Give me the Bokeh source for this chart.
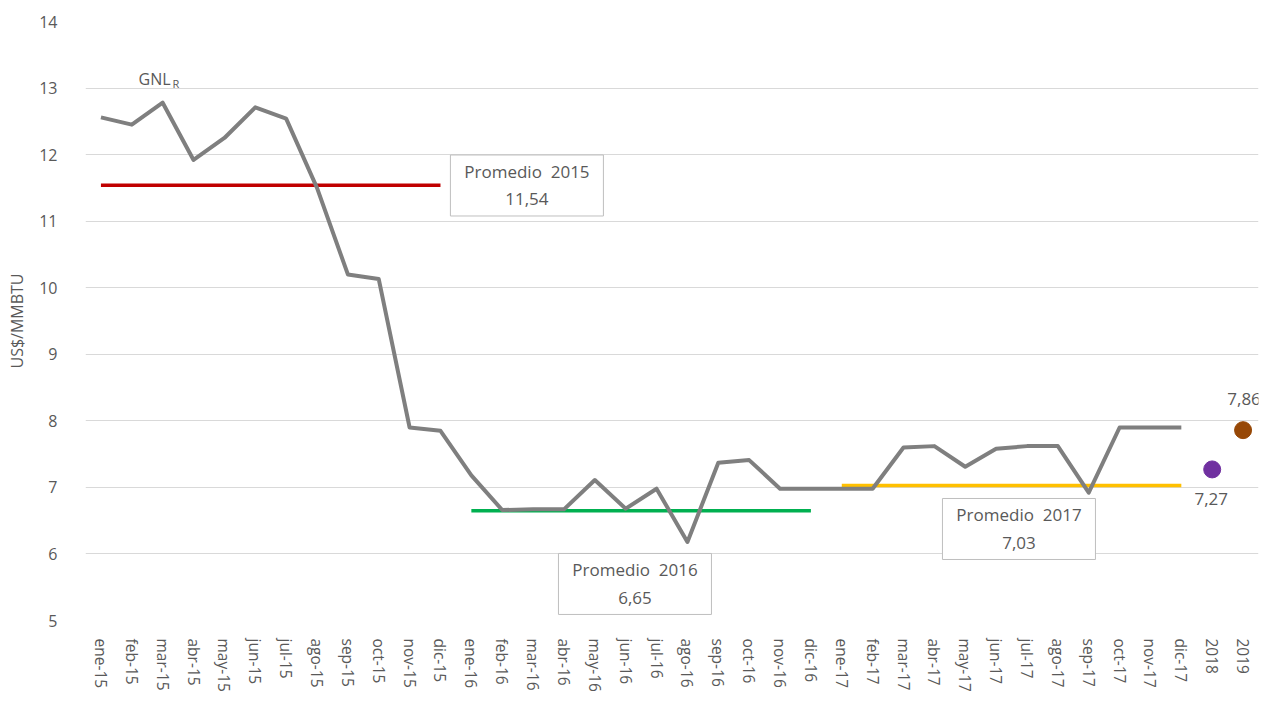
from bokeh.plotting import figure
from bokeh.models import FactorRange, Range1d, ColumnDataSource, LabelSet
from bokeh.core.properties import value
from bokeh.embed import file_html
from bokeh.resources import INLINE

months = ["ene-15", "feb-15", "mar-15", "abr-15", "may-15", "jun-15", "jul-15", "ago-15",
          "sep-15", "oct-15", "nov-15", "dic-15",
          "ene-16", "feb-16", "mar-16", "abr-16", "may-16", "jun-16", "jul-16", "ago-16",
          "sep-16", "oct-16", "nov-16", "dic-16",
          "ene-17", "feb-17", "mar-17", "abr-17", "may-17", "jun-17", "jul-17", "ago-17",
          "sep-17", "oct-17", "nov-17", "dic-17"]
years_extra = ["2018", "2019"]
categories = months + years_extra

gnl_values = [12.56, 12.45, 12.78, 11.92, 12.25, 12.71, 12.54, 11.50,
              10.20, 10.13, 7.90, 7.85,
              7.18, 6.66, 6.67, 6.67, 7.11, 6.68, 6.98, 6.18,
              7.37, 7.41, 6.98, 6.98,
              6.98, 6.98, 7.60, 7.62, 7.31, 7.58, 7.62, 7.62,
              6.92, 7.90, 7.90, 7.90]

extra_values = [7.27, 7.86]
extra_labels = ["7,27", "7,86"]
extra_colors = ["#7030a0", "#974806"]

avg_years = ["2015", "2016", "2017"]
avg_values = [11.54, 6.65, 7.03]
avg_labels = ["11,54", "6,65", "7,03"]
avg_start = ["ene-15", "ene-16", "ene-17"]
avg_end = ["dic-15", "dic-16", "dic-17"]
avg_colors = ["#c00000", "#00b050", "#ffc000"]

y_ticks = [5, 6, 7, 8, 9, 10, 11, 12, 13, 14]

FONT = "Open Sans"
TXT = "#595959"

p = figure(width=1262, height=697, x_range=FactorRange(*categories),
           y_range=Range1d(5, 14), output_backend="svg", toolbar_location=None,
           min_border_left=85, min_border_right=4, min_border_top=21, min_border_bottom=77)
p.outline_line_color = None
p.background_fill_color = "white"
p.border_fill_color = "white"

# grid
p.xgrid.grid_line_color = None
p.ygrid.grid_line_color = "#d9d9d9"
p.ygrid.grid_line_width = 1
p.yaxis.ticker = y_ticks

# axes
for ax in (p.xaxis, p.yaxis):
    ax.axis_line_color = None
    ax.major_tick_line_color = None
    ax.minor_tick_line_color = None
    ax.major_label_text_color = TXT
    ax.major_label_text_font = FONT
p.yaxis.major_label_text_font_size = "16px"
p.yaxis.major_label_standoff = 22
p.yaxis.axis_label = "US$/MMBTU"
p.yaxis.axis_label_text_font = FONT
p.yaxis.axis_label_text_font_size = "16px"
p.yaxis.axis_label_text_font_style = "normal"
p.yaxis.axis_label_text_color = TXT
p.yaxis.axis_label_standoff = 8
p.xaxis.major_label_orientation = "vertical"
p.xaxis.major_label_text_font_size = "15.5px"
p.xaxis.major_label_standoff = 12

# averages
p.segment(x0=avg_start, x1=avg_end, y0=avg_values, y1=avg_values,
          line_color=avg_colors, line_width=3.5)

# main line
p.line(x=months, y=gnl_values, line_color="#7f7f7f", line_width=4, line_join="round")

# 2018/2019 dots
extra_src = ColumnDataSource(dict(x=years_extra, y=extra_values, label=extra_labels,
                                  color=extra_colors, yoff=[-30, 31], xoff=[-1, 1]))
p.scatter(x="x", y="y", size=17, fill_color="color", line_color="color", source=extra_src)
p.add_layout(LabelSet(x="x", y="y", text="label", source=extra_src, x_offset="xoff",
                      y_offset="yoff", text_align="center", text_baseline="middle",
                      text_font=value(FONT), text_font_size="17px", text_color=TXT))

# average boxes (positions in synthetic category coordinates)
box_x = [14.30, 17.80, 30.24]
box_y = [11.536, 5.549, 6.375]
p.rect(x=box_x, y=box_y, width=153, height=61, width_units="screen", height_units="screen",
       fill_color="white", line_color="#bfbfbf", line_width=1)
p.text(x=box_x, y=box_y, text=["Promedio\u00a0\u00a0" + yr for yr in avg_years], y_offset=-14,
       text_align="center", text_baseline="middle", text_font=value(FONT),
       text_font_size="17px", text_color=TXT)
p.text(x=box_x, y=box_y, text=avg_labels, y_offset=14,
       text_align="center", text_baseline="middle", text_font=value(FONT),
       text_font_size="17px", text_color=TXT)

# series label GNL_R
p.text(x=[1.72], y=[13.14], text=["GNL"], text_align="left", text_baseline="middle",
       text_font=value(FONT), text_font_size="16px", text_color=TXT)
p.text(x=[1.72], y=[13.14], text=["R"], x_offset=34, y_offset=5, text_align="left",
       text_baseline="middle", text_font=value(FONT), text_font_size="11px", text_color=TXT)

open("out.html", "w").write(file_html(p, INLINE))
